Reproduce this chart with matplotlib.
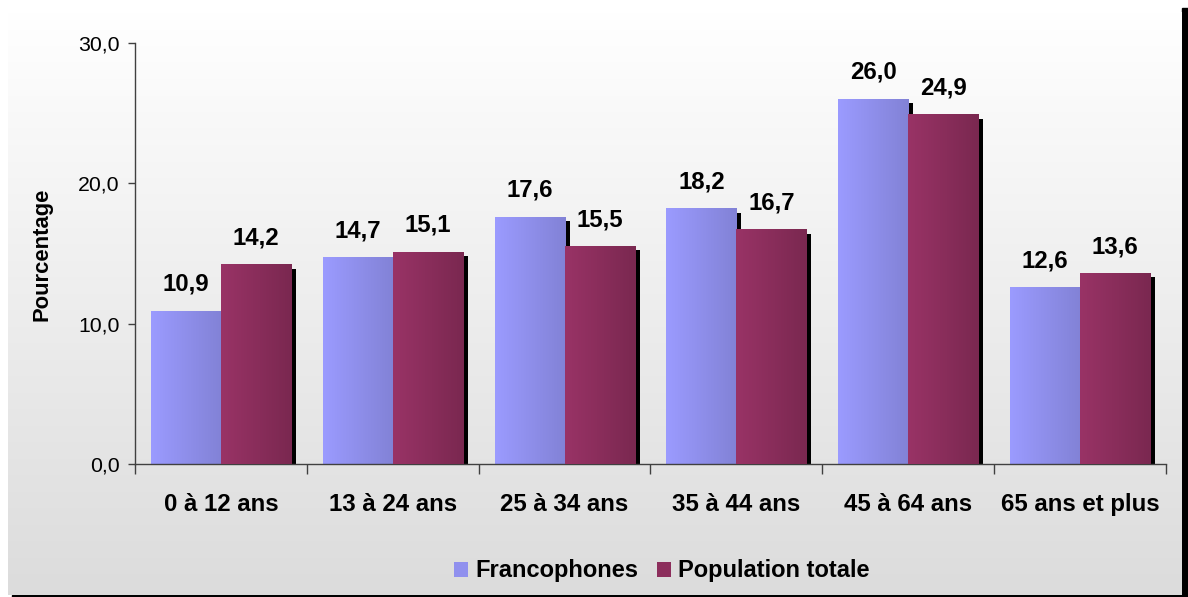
import numpy as np
import matplotlib
matplotlib.use("Agg")
import matplotlib.pyplot as plt
from matplotlib.patches import Rectangle, Patch
from matplotlib.colors import LinearSegmentedColormap

plt.rcParams['font.family'] = ['Liberation Sans', 'DejaVu Sans']

categories = ["0 à 12 ans", "13 à 24 ans", "25 à 34 ans", "35 à 44 ans",
              "45 à 64 ans", "65 ans et plus"]
francophones = [10.9, 14.7, 17.6, 18.2, 26.0, 12.6]
population_totale = [14.2, 15.1, 15.5, 16.7, 24.9, 13.6]
series_names = ["Francophones", "Population totale"]
y_ticks = [0, 10, 20, 30]

W, H = 1188, 597
fig = plt.figure(figsize=(W / 100, H / 100), dpi=100, facecolor="white")

def fx(px):
    return px / W

def fy(py):
    return 1 - py / H

# Panel background: vertical gradient with a black drop shadow
panel = [8, 12, 1182, 595]
shadow_right = Rectangle((fx(1182), fy(597)), fx(6), fy(8) - fy(597),
                         transform=fig.transFigure, color="black", zorder=0)
shadow_bottom = Rectangle((fx(12), fy(597)), fx(1176), fy(595) - fy(597),
                          transform=fig.transFigure, color="black", zorder=0)
fig.add_artist(shadow_right)
fig.add_artist(shadow_bottom)

bg = fig.add_axes([fx(panel[0]), fy(panel[3]), fx(panel[2] - panel[0]),
                   fy(panel[1]) - fy(panel[3])], zorder=0)
grad = np.linspace(1.0, 0.862, 256).reshape(-1, 1)
bg.imshow(np.dstack([grad, grad, grad]), aspect="auto", extent=[0, 1, 0, 1])
bg.set_axis_off()

ax = fig.add_axes([fx(135), fy(464), fx(1166 - 135), fy(43) - fy(464)], zorder=1)
ax.set_facecolor("none")

n = len(categories)
x = np.arange(n)
bw = 70 / 171.8
dx = 5 / 171.8
dy = 4 / 14.03

# Drop shadows behind the bars
ax.bar(x - bw / 2 + dx, np.array(francophones) - dy, width=bw, color="black", zorder=1)
ax.bar(x + bw / 2 + dx, np.array(population_totale) - dy, width=bw, color="black", zorder=1)

cm_fr = LinearSegmentedColormap.from_list("fr", ["#9b9bff", "#8282d6"])
cm_pop = LinearSegmentedColormap.from_list("pop", ["#993366", "#7a2850"])

bars_fr = ax.bar(x - bw / 2, francophones, width=bw, color="none", zorder=2)
bars_pop = ax.bar(x + bw / 2, population_totale, width=bw, color="none", zorder=3)

hgrad = np.linspace(0, 1, 128).reshape(1, -1)
for bars, cmap, z in [(bars_fr, cm_fr, 2), (bars_pop, cm_pop, 3)]:
    for p in bars:
        x0, w, h = p.get_x(), p.get_width(), p.get_height()
        ax.imshow(hgrad, cmap=cmap, aspect="auto",
                  extent=[x0, x0 + w, 0, h], zorder=z, interpolation="bilinear")

for bars, vals in [(bars_fr, francophones), (bars_pop, population_totale)]:
    for p, v in zip(bars, vals):
        ax.annotate(f"{v:.1f}".replace(".", ","),
                    (p.get_x() + p.get_width() / 2, v),
                    xytext=(0, 14.5), textcoords="offset points",
                    ha="center", va="baseline", fontsize=17.3,
                    fontweight="bold", color="black")

ax.set_xlim(-0.5, n - 0.5)
ax.set_ylim(0, 30)
ax.set_aspect("auto")

ax.set_yticks(y_ticks)
ax.set_yticklabels([f"{t:.1f}".replace(".", ",") for t in y_ticks], fontsize=15.3)
ax.tick_params(axis="y", direction="out", length=5, width=1, color="#404040", pad=6)

ax.set_xticks(np.arange(n + 1) - 0.5)
ax.set_xticklabels([])
ax.set_xticks(x, minor=True)
ax.set_xticklabels(categories, minor=True, fontsize=17.3, fontweight="bold")
ax.tick_params(axis="x", which="major", direction="out", length=7, width=1, color="#404040")
ax.tick_params(axis="x", which="minor", length=0, pad=21)

for s in ["top", "right"]:
    ax.spines[s].set_visible(False)
for s in ["left", "bottom"]:
    ax.spines[s].set_color("#404040")
    ax.spines[s].set_linewidth(1)

fig.text(fx(42), fy(254), "Pourcentage", rotation=90, ha="center", va="center",
         fontsize=15.8, fontweight="bold")

handles = [Patch(facecolor="#9090ee", edgecolor="none"),
           Patch(facecolor="#8c2e5c", edgecolor="none")]
fig.legend(handles, series_names, loc="center", bbox_to_anchor=(fx(662), fy(571)),
           ncol=2, frameon=False, prop={"size": 17, "weight": "bold"},
           handlelength=0.6, handleheight=0.6, handletextpad=0.3, columnspacing=0.8)

fig.savefig("out.png", dpi=100, facecolor="white")
